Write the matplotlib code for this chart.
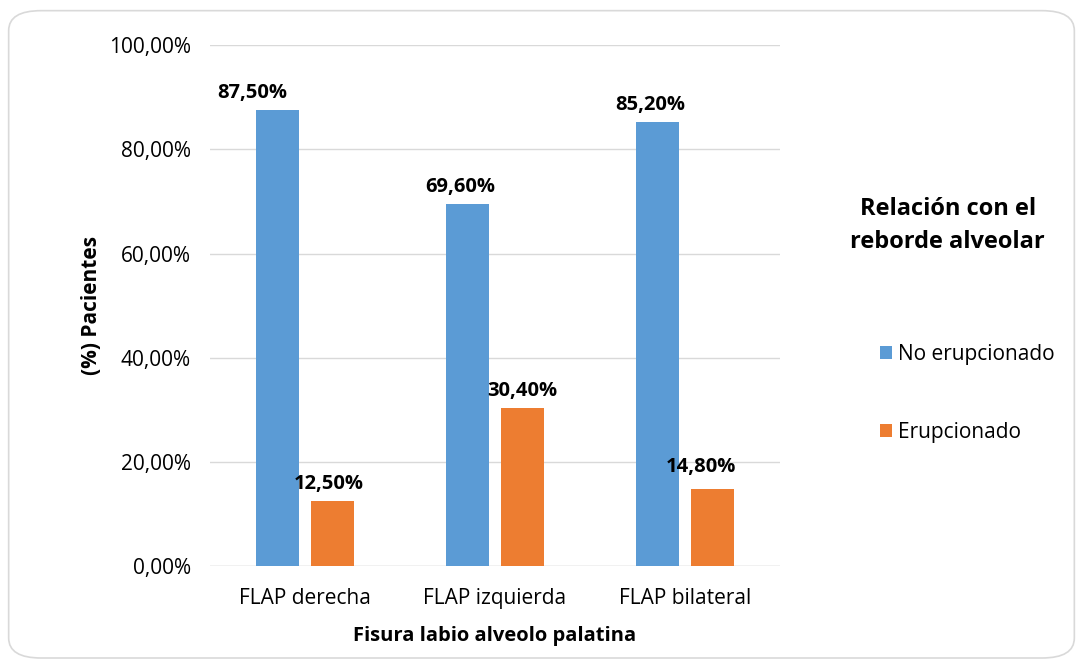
import numpy as np
import matplotlib.pyplot as plt
from matplotlib.patches import FancyBboxPatch

plt.rcParams['font.family'] = ['Open Sans', 'DejaVu Sans']

categories = ['FLAP derecha', 'FLAP izquierda', 'FLAP bilateral']
no_erupcionado = [87.5, 69.6, 85.2]
erupcionado = [12.5, 30.4, 14.8]
series_names = ['No erupcionado', 'Erupcionado']
colors = ['#5B9BD5', '#ED7D31']
yticks = [0, 20, 40, 60, 80, 100]

# label nudges (points) as placed in the original chart
label_dx = [[-18, -5, -5], [-3, 0, -8]]
label_dy = [[0, 0, 0], [0, 0, 4]]


def fmt(v):
    return f'{v:.2f}%'.replace('.', ',')


fig = plt.figure(figsize=(10.83, 6.66), dpi=100)
fig.patches.append(FancyBboxPatch((0.008, 0.012), 0.984, 0.972,
                                  boxstyle='round,pad=0,rounding_size=0.03',
                                  transform=fig.transFigure, facecolor='white',
                                  edgecolor='#D9D9D9', linewidth=1.2, zorder=-1))

ax = fig.add_axes([0.194, 0.150, 0.526, 0.782])
ax.set_facecolor('none')
x = np.arange(len(categories))
w = 0.226
off = 0.145
for i, (vals, c, name, d) in enumerate(zip([no_erupcionado, erupcionado], colors,
                                            series_names, [-off, off])):
    bars = ax.bar(x + d, vals, width=w, color=c, label=name, zorder=3)
    for j, (b, v) in enumerate(zip(bars, vals)):
        ax.annotate(fmt(v), (b.get_x() + b.get_width() / 2, v),
                    xytext=(label_dx[i][j], 5 + label_dy[i][j]), textcoords='offset points',
                    ha='center', va='bottom', fontsize=14.5, fontweight='bold', zorder=4)

ax.set_xlim(-0.5, 2.5)
ax.set_ylim(0, 100)
ax.set_yticks(yticks)
ax.set_yticklabels([fmt(t) for t in yticks], fontsize=15)
ax.set_xticks(x)
ax.set_xticklabels(categories, fontsize=15)
ax.tick_params(axis='y', length=0, pad=14)
ax.tick_params(axis='x', length=0, pad=16)
ax.grid(axis='y', color='#D9D9D9', linewidth=1, zorder=0)
for s in ax.spines.values():
    s.set_visible(False)
ax.axhline(0, color='#D9D9D9', linewidth=1, zorder=2)

ax.set_ylabel('(%) Pacientes', fontsize=15, fontweight='bold', labelpad=0)
ax.yaxis.set_label_coords(-0.19, 0.5)
ax.set_xlabel('Fisura labio alveolo palatina', fontsize=14.5, fontweight='bold', labelpad=12)

fig.text(0.875, 0.662, 'Relación con el\nreborde alveolar', ha='center', va='center',
         fontsize=17, fontweight='bold', linespacing=1.5)
handles, labels = ax.get_legend_handles_labels()
fig.legend(handles, labels, loc='upper left', bbox_to_anchor=(0.795, 0.512), frameon=False,
           fontsize=15, handlelength=0.6, handleheight=0.6, handletextpad=0.3,
           labelspacing=2.75)

fig.savefig('out.png', dpi=100)
